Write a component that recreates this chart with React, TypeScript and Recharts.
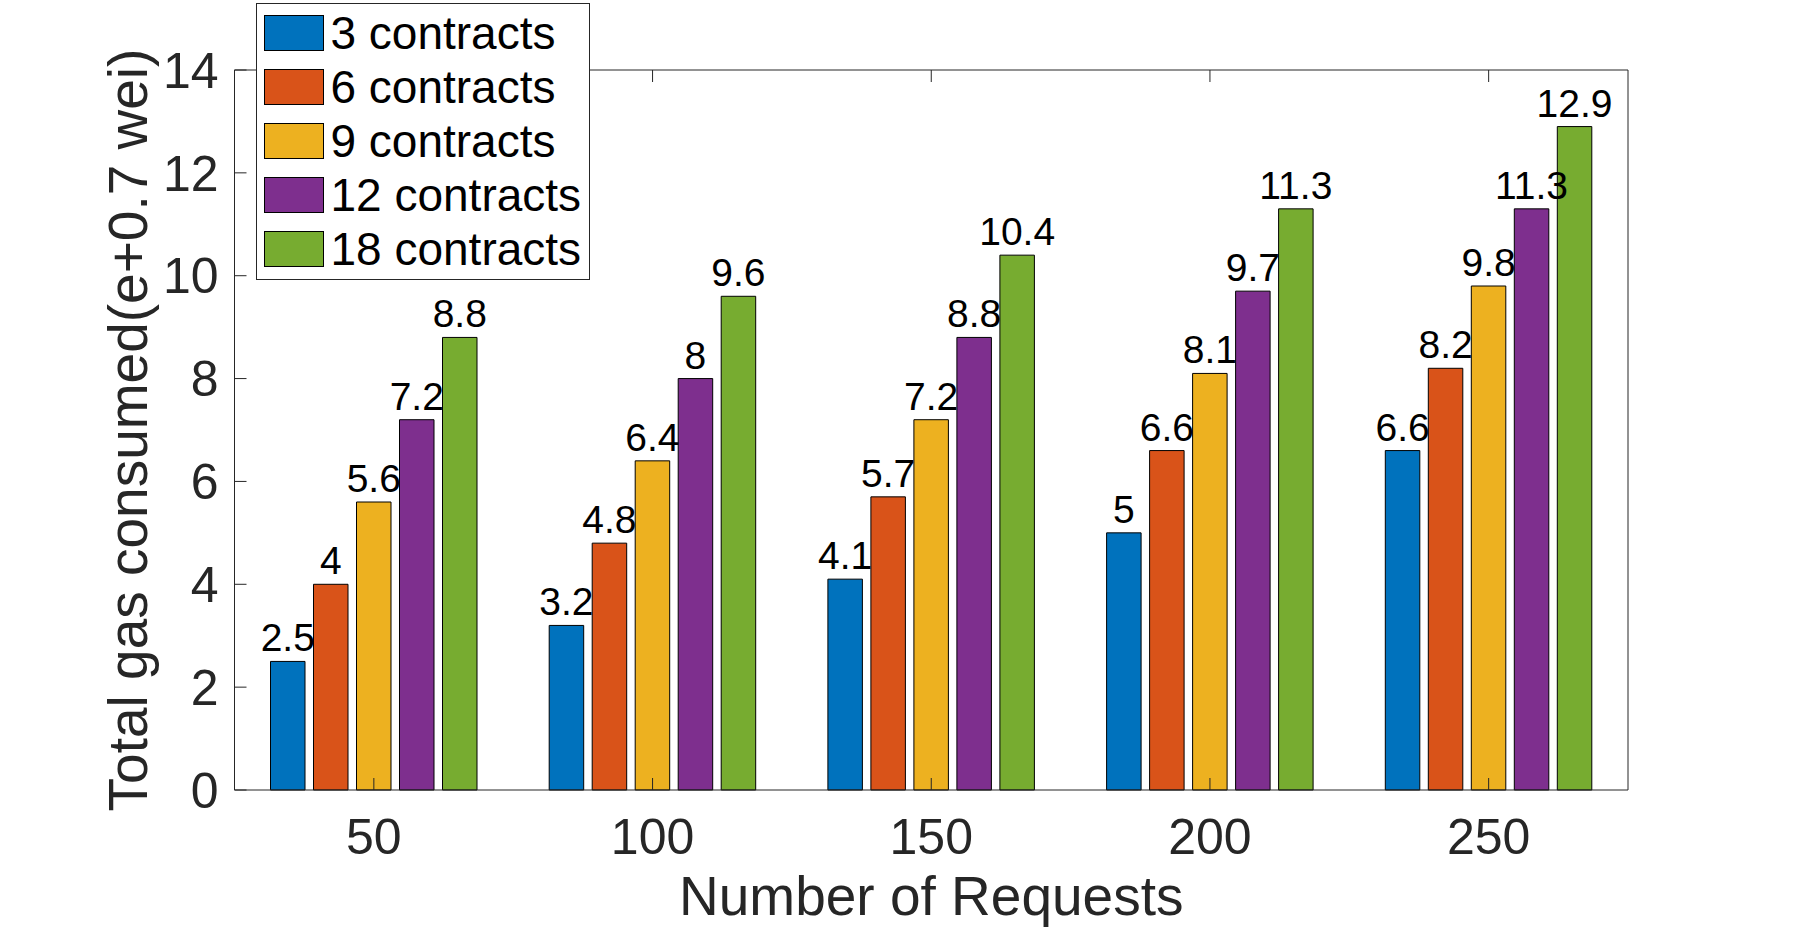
import React from "react"
import { BarChart, Bar, XAxis, YAxis, Legend, LabelList, Label } from "recharts"

const requests = ["50", "100", "150", "200", "250"]
const contracts3 = [2.5, 3.2, 4.1, 5, 6.6]
const contracts6 = [4, 4.8, 5.7, 6.6, 8.2]
const contracts9 = [5.6, 6.4, 7.2, 8.1, 9.8]
const contracts12 = [7.2, 8, 8.8, 9.7, 11.3]
const contracts18 = [8.8, 9.6, 10.4, 11.3, 12.9]
const yTicks = [0, 2, 4, 6, 8, 10, 12, 14]

const series = [
  { key: "c3", name: "3 contracts", color: "#0072BD", values: contracts3 },
  { key: "c6", name: "6 contracts", color: "#D95319", values: contracts6 },
  { key: "c9", name: "9 contracts", color: "#EDB120", values: contracts9 },
  { key: "c12", name: "12 contracts", color: "#7E2F8E", values: contracts12 },
  { key: "c18", name: "18 contracts", color: "#77AC30", values: contracts18 },
]

const data = requests.map((r, i) => {
  const row: Record<string, string | number> = { requests: r }
  series.forEach((s) => {
    row[s.key] = s.values[i]
  })
  return row
})

const FONT = '"Liberation Sans", Arial, Helvetica, sans-serif'
const AXIS = "#262626"

const noTick = () => <g />

function LegendBox() {
  return (
    <div
      style={{
        position: "relative",
        width: 334,
        height: 277,
        border: `1px solid ${AXIS}`,
        background: "#fff",
        boxSizing: "border-box",
        fontFamily: FONT,
      }}
    >
      {series.map((s, i) => (
        <div
          key={s.key}
          style={{
            position: "absolute",
            left: 6.6,
            top: 10.9 + i * 54,
            height: 36,
            display: "flex",
            alignItems: "center",
          }}
        >
          <span
            style={{
              display: "inline-block",
              width: 60,
              height: 36,
              boxSizing: "border-box",
              border: "1px solid #000",
              backgroundColor: s.color,
            }}
          />
          <span
            style={{
              marginLeft: 6.5,
              fontSize: 46,
              lineHeight: "46px",
              color: "#000",
              whiteSpace: "nowrap",
            }}
          >
            {s.name}
          </span>
        </div>
      ))}
    </div>
  )
}

export default function App() {
  return (
    <div style={{ position: "absolute", left: 0, top: 0, width: 1798, height: 930, background: "#fff" }}>
      <BarChart
        width={1798}
        height={930}
        data={data}
        margin={{ top: 69, right: 169, bottom: 80, left: 134.5 }}
        barSize={34.5}
        barGap={8.5}
      >
        {series.map((s) => (
          <Bar
            key={s.key}
            dataKey={s.key}
            name={s.name}
            fill={s.color}
            stroke="#000"
            strokeWidth={1}
            xAxisId="bottom"
            yAxisId="left"
            isAnimationActive={false}
          >
            <LabelList
              dataKey={s.key}
              position="top"
              offset={10}
              fill="#000"
              fontSize={39}
              fontFamily={FONT}
            />
          </Bar>
        ))}
        <XAxis
          xAxisId="bottom"
          dataKey="requests"
          orientation="bottom"
          height={60}
          interval={0}
          tickSize={-12}
          tickMargin={40}
          stroke={AXIS}
          tick={{ fill: AXIS, fontSize: 50, fontFamily: FONT }}
        >
          <Label
            value="Number of Requests"
            position="bottom"
            offset={26}
            fill={AXIS}
            fontSize={55}
            fontFamily={FONT}
          />
        </XAxis>
        <XAxis
          xAxisId="top"
          dataKey="requests"
          orientation="top"
          height={1}
          interval={0}
          tickSize={-12}
          stroke={AXIS}
          tick={noTick}
        />
        <YAxis
          yAxisId="left"
          orientation="left"
          width={100}
          domain={[0, 14]}
          ticks={yTicks}
          interval={0}
          tickSize={-12}
          tickMargin={28}
          stroke={AXIS}
          tick={{ fill: AXIS, fontSize: 50, fontFamily: FONT }}
        >
          <Label
            value="Total gas consumed(e+0.7 wei)"
            angle={-90}
            position="left"
            offset={7.5}
            fill={AXIS}
            fontSize={55}
            fontFamily={FONT}
            style={{ textAnchor: "middle" }}
          />
        </YAxis>
        <YAxis
          yAxisId="right"
          orientation="right"
          width={1}
          domain={[0, 14]}
          ticks={yTicks}
          interval={0}
          tickSize={-12}
          stroke={AXIS}
          tick={noTick}
        />
        <Legend
          layout="vertical"
          align="center"
          verticalAlign="middle"
          content={() => <LegendBox />}
          wrapperStyle={{ left: 256.4, top: 3.4, width: 334, height: 277 }}
        />
      </BarChart>
    </div>
  )
}
